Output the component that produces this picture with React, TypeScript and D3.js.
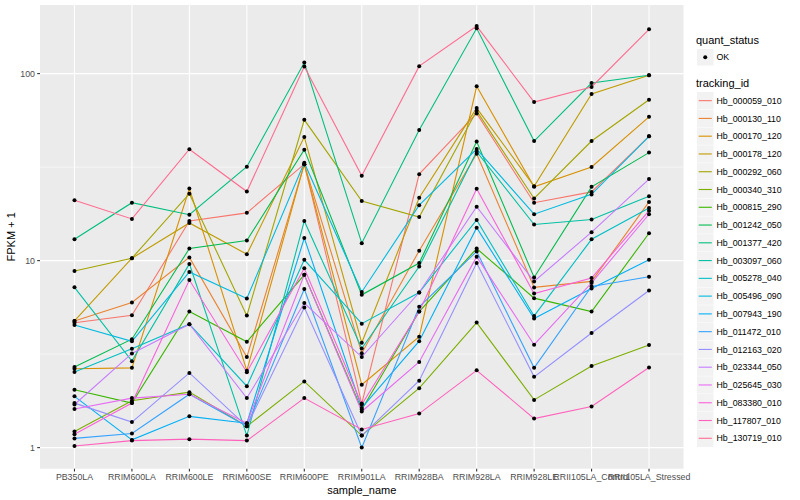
import React from "react";
import * as d3 from "d3";

const samples = [
  "PB350LA", "RRIM600LA", "RRIM600LE", "RRIM600SE", "RRIM600PE", "RRIM901LA",
  "RRIM928BA", "RRIM928LA", "RRIM928LE", "RRII105LA_Control", "RRII105LA_Stressed",
];

const trackingIds = [
  "Hb_000059_010", "Hb_000130_110", "Hb_000170_120", "Hb_000178_120", "Hb_000292_060",
  "Hb_000340_310", "Hb_000815_290", "Hb_001242_050", "Hb_001377_420", "Hb_003097_060",
  "Hb_005278_040", "Hb_005496_090", "Hb_007943_190", "Hb_011472_010", "Hb_012163_020",
  "Hb_023344_050", "Hb_025645_030", "Hb_083380_010", "Hb_117807_010", "Hb_130719_010",
];

const colors = [
  "#F8766D", "#EA8331", "#D89000", "#C09B00", "#A3A500", "#7CAE00", "#39B600",
  "#00BB4E", "#00BF7D", "#00C1A3", "#00BFC4", "#00BAE0", "#00B0F6", "#35A2FF",
  "#9590FF", "#C77CFF", "#E76BF3", "#FA62DB", "#FF62BC", "#FF6C91",
];

// FPKM + 1 per tracking_id, in sample order
const s000059 = [4.65, 5.1, 16.3, 18, 32.8, 1.72, 29, 61.2, 20.4, 23.3, 46.2];
const s000130 = [4.76, 5.97, 10.4, 3.05, 32.8, 3.2, 11.3, 37.3, 7.19, 7.74, 20.6];
const s000170 = [2.64, 2.67, 24.3, 2.58, 32.8, 2.17, 3.92, 85.5, 24.8, 31.7, 58.7];
const s000178 = [4.76, 10.3, 15.9, 10.8, 45.8, 3.64, 21.7, 65.4, 25, 77.8, 98];
const s000292 = [8.8, 10.3, 22.8, 5.08, 56.6, 20.8, 17.1, 63.2, 21.5, 43.6, 72.5];
const s000340 = [1.22, 1.78, 1.98, 1.3, 2.26, 1.16, 2.08, 4.66, 1.8, 2.73, 3.54];
const s000815 = [2.04, 1.73, 5.34, 3.68, 8.4, 1.6, 5.34, 11.6, 6.3, 5.34, 14.0];
const s001242 = [2.7, 3.8, 11.6, 12.8, 39.2, 6.56, 9.7, 43.3, 8.13, 24.8, 37.8];
const s001377 = [13.0, 20.4, 17.6, 31.8, 114.6, 12.4, 50, 174.6, 43.6, 89, 98];
const s003097 = [7.2, 2.9, 9.6, 1.16, 16.3, 3.39, 9.3, 38.2, 15.6, 16.6, 22.1];
const s005278 = [2.54, 3.38, 4.57, 2.13, 10.1, 4.6, 6.75, 16.5, 5.06, 13.0, 19.1];
const s005496 = [4.53, 3.7, 8.7, 6.27, 33.4, 6.8, 19.8, 39.5, 17.7, 22.6, 46.2];
const s007943 = [1.88, 1.1, 1.47, 1.35, 13.2, 1.63, 3.71, 15.0, 4.9, 7.1, 10.1];
const s011472 = [1.12, 1.19, 1.93, 1.3, 7.05, 1.0, 5.66, 11.2, 2.67, 7.27, 8.2];
const s012163 = [1.73, 1.37, 2.51, 1.3, 5.61, 1.16, 2.28, 9.7, 2.39, 4.1, 6.92];
const s023344 = [1.7, 3.19, 4.57, 1.84, 5.93, 3.05, 6.75, 19.4, 7.74, 14.2, 27.3];
const s025645 = [1.61, 1.84, 1.93, 1.35, 8.4, 1.56, 2.87, 10.5, 3.55, 7.6, 17.7];
const s083380 = [1.18, 1.73, 7.87, 2.53, 9.1, 1.7, 5.34, 24.2, 6.67, 8.07, 18.5];
const s117807 = [1.02, 1.09, 1.11, 1.09, 1.84, 1.25, 1.52, 2.59, 1.43, 1.66, 2.68];
const s130719 = [21.0, 16.7, 39.4, 23.4, 109, 28.4, 109.6, 179.5, 70.4, 84.8, 172.5];

const seriesValues = [
  s000059, s000130, s000170, s000178, s000292, s000340, s000815, s001242, s001377, s003097,
  s005278, s005496, s007943, s011472, s012163, s023344, s025645, s083380, s117807, s130719,
];

const yTicks = [1, 10, 100];
const yMinor = [Math.sqrt(10), Math.sqrt(1000)];

const W = 800;
const H = 500;
const panel = { left: 40, right: 683.5, top: 5, bottom: 468.7 };
const FONT = "'Liberation Sans', Arial, Helvetica, sans-serif";

export default function App() {
  const x = d3
    .scalePoint<string>()
    .domain(samples)
    .range([panel.left, panel.right])
    .padding(0.6);

  const allVals = seriesValues.flat();
  const lmin = Math.log10(d3.min(allVals) as number);
  const lmax = Math.log10(d3.max(allVals) as number);
  const ex = (lmax - lmin) * 0.05;
  const y = d3
    .scaleLog()
    .domain([Math.pow(10, lmin - ex), Math.pow(10, lmax + ex)])
    .range([panel.bottom, panel.top]);

  const line = d3
    .line<number>()
    .x((_, i) => x(samples[i]) as number)
    .y((d) => y(d));

  const legendX = 697;
  const keyStart = 92;
  const keyStep = 17.77;

  return (
    <svg width={W} height={H} style={{ position: "absolute", left: 0, top: 0 }} fontFamily={FONT}>
      <rect x={0} y={0} width={W} height={H} fill="#FFFFFF" />
      <rect
        x={panel.left}
        y={panel.top}
        width={panel.right - panel.left}
        height={panel.bottom - panel.top}
        fill="#EBEBEB"
      />
      {yMinor
        .filter((v) => y(v) >= panel.top && y(v) <= panel.bottom)
        .map((v) => (
          <line key={"mn" + v} x1={panel.left} x2={panel.right} y1={y(v)} y2={y(v)} stroke="#FFFFFF" strokeWidth={0.55} />
        ))}
      {yTicks.map((v) => (
        <line key={"my" + v} x1={panel.left} x2={panel.right} y1={y(v)} y2={y(v)} stroke="#FFFFFF" strokeWidth={1.1} />
      ))}
      {samples.map((s) => (
        <line key={"mx" + s} x1={x(s)} x2={x(s)} y1={panel.top} y2={panel.bottom} stroke="#FFFFFF" strokeWidth={1.1} />
      ))}

      {seriesValues.map((vals, i) => (
        <path key={"l" + i} d={line(vals) as string} fill="none" stroke={colors[i]} strokeWidth={1.1} />
      ))}
      {seriesValues.map((vals, i) =>
        vals.map((v, j) => (
          <circle key={"p" + i + "-" + j} cx={x(samples[j])} cy={y(v)} r={2} fill="#000000" />
        ))
      )}

      {/* y axis */}
      {yTicks.map((v) => (
        <g key={"yt" + v}>
          <line x1={panel.left - 2.8} x2={panel.left} y1={y(v)} y2={y(v)} stroke="#333333" strokeWidth={1.1} />
          <text x={panel.left - 5} y={y(v)} dy="0.35em" textAnchor="end" fontSize={8.8} fill="#4D4D4D">
            {v}
          </text>
        </g>
      ))}
      {/* x axis */}
      {samples.map((s) => (
        <g key={"xt" + s}>
          <line x1={x(s)} x2={x(s)} y1={panel.bottom} y2={panel.bottom + 2.8} stroke="#333333" strokeWidth={1.1} />
          <text x={x(s)} y={panel.bottom + 11.5} textAnchor="middle" fontSize={8.8} fill="#4D4D4D">
            {s}
          </text>
        </g>
      ))}
      <text x={(panel.left + panel.right) / 2} y={494} textAnchor="middle" fontSize={11} fill="#000000">
        sample_name
      </text>
      <text
        transform={`translate(15,${(panel.top + panel.bottom) / 2}) rotate(-90)`}
        textAnchor="middle"
        fontSize={11}
        fill="#000000"
      >
        FPKM + 1
      </text>

      {/* legend: quant_status */}
      <text x={legendX - 1} y={44} fontSize={11} fill="#000000">quant_status</text>
      <rect x={legendX} y={49} width={16.5} height={16.5} fill="#F2F2F2" />
      <circle cx={legendX + 8.25} cy={57.25} r={2} fill="#000000" />
      <text x={legendX + 19.5} y={57.25} dy="0.35em" fontSize={8.8} fill="#000000">OK</text>

      {/* legend: tracking_id */}
      <text x={legendX - 1} y={87} fontSize={11} fill="#000000">tracking_id</text>
      {trackingIds.map((id, i) => {
        const ky = keyStart + i * keyStep;
        return (
          <g key={"lg" + id}>
            <rect x={legendX} y={ky} width={16.5} height={17.3} fill="#F2F2F2" />
            <line x1={legendX + 1.7} x2={legendX + 14.8} y1={ky + 8.65} y2={ky + 8.65} stroke={colors[i]} strokeWidth={1.1} />
            <text x={legendX + 19.5} y={ky + 8.65} dy="0.35em" fontSize={8.8} fill="#000000">
              {id}
            </text>
          </g>
        );
      })}
    </svg>
  );
}
